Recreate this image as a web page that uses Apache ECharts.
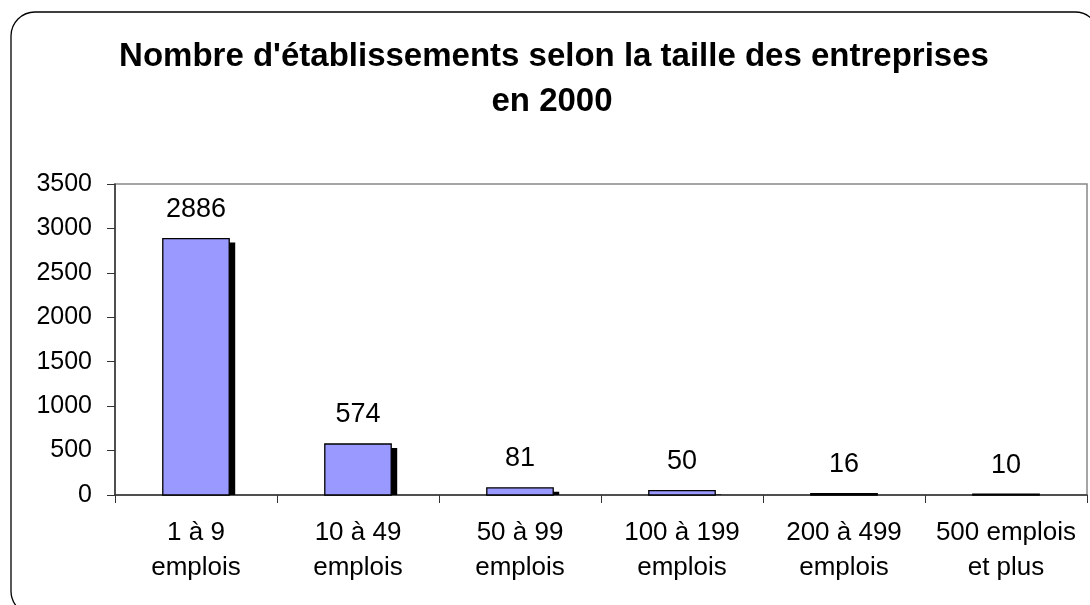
<!DOCTYPE html>
<html>
<head>
<meta charset="utf-8">
<script src="https://cdn.jsdelivr.net/npm/echarts@6/dist/echarts.min.js"></script>
<style>
html,body{margin:0;padding:0;background:#fff;}
#c{width:1090px;height:605px;}
</style>
</head>
<body>
<div id="c"></div>
<script>
const categories = ['1 à 9\nemplois', '10 à 49\nemplois', '50 à 99\nemplois', '100 à 199\nemplois', '200 à 499\nemplois', '500 emplois\net plus'];
const values = [2886, 574, 81, 50, 16, 10];
const yTicks = [0, 500, 1000, 1500, 2000, 2500, 3000, 3500];
const titleLines = ["Nombre d'établissements selon la taille des entreprises", "en 2000"];

const FONT = 'Liberation Sans, Arial, sans-serif';
const chart = echarts.init(document.getElementById('c'), null, {renderer: 'canvas'});

function renderBar(params, api) {
  const idx = api.value(0);
  const val = api.value(1);
  const top = api.coord([idx, val]);
  const base = api.coord([idx, 0]);
  const w = api.size([1, 0])[0] * 0.41;
  const x0 = top[0] - w / 2;
  const h = base[1] - top[1];
  const children = [];
  const sh = h - 4;
  if (sh > 0) {
    children.push({type: 'rect', shape: {x: x0 + 6, y: top[1] + 4, width: w, height: sh}, style: {fill: '#000'}});
  }
  children.push({type: 'rect', shape: {x: x0, y: top[1], width: w, height: h}, style: {fill: '#9999FF', stroke: '#000', lineWidth: 1.3}});
  children.push({type: 'text', style: {text: String(val), x: top[0], y: top[1] - 29, align: 'center', verticalAlign: 'middle', font: '27px ' + FONT, fill: '#000'}});
  return {type: 'group', children: children};
}

chart.setOption({
  animation: false,
  backgroundColor: '#fff',
  textStyle: {fontFamily: FONT},
  graphic: [
    {type: 'rect', shape: {x: 11, y: 12, width: 1088, height: 603, r: 24}, style: {fill: 'none', stroke: '#000', lineWidth: 1.3}, silent: true, z: 0},
    {type: 'text', style: {text: titleLines[0], x: 554, y: 57, align: 'center', verticalAlign: 'middle', font: 'bold 33px ' + FONT, fill: '#000'}, silent: true},
    {type: 'text', style: {text: titleLines[1], x: 552, y: 102, align: 'center', verticalAlign: 'middle', font: 'bold 33px ' + FONT, fill: '#000'}, silent: true}
  ],
  grid: {left: 115, right: 3, top: 184, bottom: 110, show: true, borderColor: '#888', borderWidth: 1.5, backgroundColor: 'transparent'},
  xAxis: {
    type: 'category',
    data: categories,
    axisLine: {lineStyle: {color: '#333', width: 1.5}},
    axisTick: {show: true, length: 8, lineStyle: {color: '#333'}},
    axisLabel: {color: '#000', fontSize: 26, lineHeight: 35, margin: 20, interval: 0, fontFamily: FONT}
  },
  yAxis: {
    type: 'value',
    min: yTicks[0], max: yTicks[yTicks.length - 1], interval: yTicks[1] - yTicks[0],
    axisLine: {show: true, lineStyle: {color: '#333', width: 1.5}},
    axisTick: {show: true, length: 8, lineStyle: {color: '#333'}},
    splitLine: {show: false},
    axisLabel: {color: '#000', fontSize: 25, margin: 23, fontFamily: FONT, formatter: v => String(v)}
  },
  series: [{
    type: 'custom',
    renderItem: renderBar,
    encode: {x: 0, y: 1},
    data: values.map((v, i) => [i, v])
  }]
});
</script>
</body>
</html>
